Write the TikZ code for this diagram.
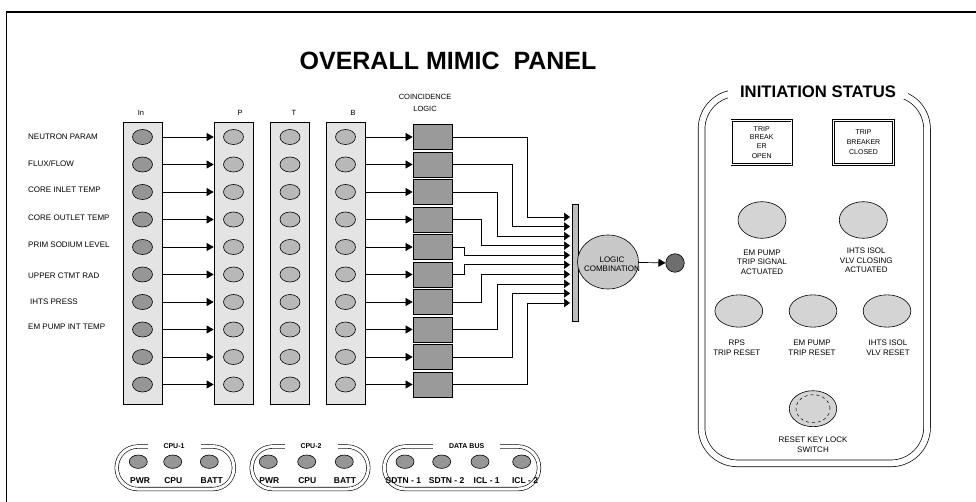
\documentclass[tikz,border=0pt]{standalone}
\usepackage{fontspec}
\setmainfont{Liberation Sans}
\usetikzlibrary{positioning, shapes.geometric, arrows.meta}

\definecolor{colfill}{HTML}{E4E4E4}
\definecolor{lampdark}{HTML}{969696}
\definecolor{lamplight}{HTML}{B8B8B8}
\definecolor{coinfill}{HTML}{9A9A9A}
\definecolor{barfill}{HTML}{BDBDBD}
\definecolor{logicfill}{HTML}{C8C8C8}
\definecolor{dotfill}{HTML}{6E6E6E}
\definecolor{panelfill}{HTML}{D4D4D4}

\begin{document}
\begin{tikzpicture}[
  x=1pt, y=-1pt,
  font=\fontsize{8}{9.5}\selectfont,
  col/.style={draw, fill=colfill, line width=0.7pt, minimum width=39pt, minimum height=282pt, inner sep=0pt},
  lamp/.style={draw, ellipse, line width=0.6pt, minimum width=20pt, minimum height=15pt, inner sep=0pt},
  inlamp/.style={lamp, fill=lampdark},
  siglamp/.style={lamp, fill=lamplight},
  coin/.style={draw, fill=coinfill, line width=0.8pt, minimum width=39pt, minimum height=25pt, inner sep=0pt},
  param/.style={anchor=west, inner sep=0pt},
  head/.style={font=\fontsize{7.5}{12}\selectfont, align=center, inner sep=0pt},
  arrow/.style={-{Triangle[length=7pt, width=8pt]}, line width=0.7pt},
  wire/.style={-{Triangle[length=6pt, width=8.5pt]}, line width=0.6pt},
  panel/.style={draw, double, double distance=6pt, line width=0.7pt, rounded corners=36pt, inner sep=0pt},
  tripbox/.style={draw, double, double distance=1.2pt, line width=0.6pt, minimum width=60pt, minimum height=44pt, inner sep=0pt, align=center, font=\fontsize{7}{8.5}\selectfont},
  bigdisc/.style={draw, ellipse, fill=panelfill, line width=0.6pt, inner sep=0pt},
  disclbl/.style={align=center, inner sep=0pt, font=\fontsize{8}{9.5}\selectfont},
  group/.style={draw, double, double distance=3pt, line width=0.6pt, rounded corners=21pt, minimum height=42.5pt, inner sep=0pt},
  grouptitle/.style={fill=white, inner xsep=16pt, inner ysep=1pt, font=\bfseries\fontsize{7}{8}\selectfont},
  glamp/.style={draw, ellipse, fill=lampdark, line width=0.6pt, minimum width=18pt, minimum height=13.4pt, inner sep=0pt},
  glbl/.style={inner sep=0pt, font=\bfseries\fontsize{8.5}{9}\selectfont},
]
  \useasboundingbox (0,0) rectangle (976,502);
  \draw[line width=1.3pt] (976,12) -| (6.5,502);

  \node[font=\bfseries\fontsize{25}{28}\selectfont] (title) at (448,61) {OVERALL MIMIC\ \ PANEL};

  % parameter columns
  \node[col] (colIn) at (142.5,263) {};
  \node[col] (colP) at (233.5,263) {};
  \node[col] (colT) at (290,263) {};
  \node[col] (colB) at (345.5,263) {};
  \node[head] (hIn) at (141,113) {In};
  \node[head] (hP) at (240,113) {P};
  \node[head] (hT) at (294,113) {T};
  \node[head] (hB) at (353,113) {B};
  \node[head] (hCoin) at (425,103) {COINCIDENCE\\LOGIC};

  \node[param] (pNeutron) at (28,137) {NEUTRON PARAM};
  \node[param] (pFlux) at (28,163.5) {FLUX/FLOW};
  \node[param] (pInlet) at (28,190) {CORE INLET TEMP};
  \node[param] (pOutlet) at (28,218) {CORE OUTLET TEMP};
  \node[param] (pSodium) at (28,245) {PRIM SODIUM LEVEL};
  \node[param] (pCtmt) at (28,276) {UPPER CTMT RAD};
  \node[param] (pIhts) at (30,302) {IHTS PRESS};
  \node[param] (pEmPump) at (28,327) {EM PUMP INT TEMP};

  \foreach \i in {0,...,9} {
    \pgfmathsetmacro{\y}{137+27.5*\i}
    \node[inlamp] (in\i) at (142.5,\y) {};
    \node[siglamp] (p\i) at (233.5,\y) {};
    \node[siglamp] (t\i) at (290,\y) {};
    \node[siglamp] (b\i) at (345.5,\y) {};
    \node[coin] (coin\i) at (432.5,\y) {};
    \draw[arrow] (in\i -| colIn.east) -- (p\i -| colP.west);
    \draw[arrow] (b\i -| colB.east) -- (coin\i.west);
  }

  % logic combination
  \node[draw, fill=barfill, line width=0.6pt, minimum width=6pt, minimum height=117pt, inner sep=0pt] (bar) at (575.5,262.5) {};
  \foreach \i/\tx in {0/527,1/512,2/497,3/481,4/464,5/464,6/481,7/497,8/512,9/527} {
    \pgfmathsetmacro{\yin}{217+9.55*\i}
    \coordinate (bin\i) at (570,\yin);
    \coordinate (turn\i) at (\tx,\yin);
    \draw[wire] (coin\i.east) -| (turn\i) -- (bin\i);
  }
  \node[draw, ellipse, fill=logicfill, line width=0.6pt, minimum width=61pt, minimum height=54pt, inner sep=0pt] (logic) at (608,262) {};
  \node[align=center, inner sep=0pt, font=\fontsize{8}{9.5}\selectfont] (logictxt) at (612,264) {LOGIC\\COMBINATION};
  \node[draw, circle, fill=dotfill, line width=0.6pt, minimum size=18.5pt, inner sep=0pt] (dot) at (675,263) {};
  \draw[arrow] (logic) -- (dot);

  % initiation status
  \node[panel, minimum width=225.5pt, minimum height=370.3pt] (initpanel) at (814.3,278.2) {};
  \node[fill=white, inner xsep=12pt, inner ysep=1pt, font=\bfseries\fontsize{16.7}{18}\selectfont] (inittitle) at (818,92) {INITIATION STATUS};

  \node[tripbox] (tbopen) at (761.7,142.7) {TRIP\\BREAK\\ER\\[2pt]OPEN};
  \node[tripbox, font=\fontsize{7}{10}\selectfont] (tbclosed) at (863.5,142.5) {TRIP\\BREAKER\\CLOSED};

  \node[bigdisc, minimum width=48pt, minimum height=36.6pt] (emtrip) at (762,220) {};
  \node[bigdisc, minimum width=48pt, minimum height=36.6pt] (ihtsclose) at (863.3,220) {};
  \node[disclbl, below=11pt of emtrip] (emtriplbl) {EM PUMP\\TRIP SIGNAL\\ACTUATED};
  \node[disclbl, below=9.5pt of ihtsclose, xshift=3pt] (ihtscloselbl) {IHTS ISOL\\VLV CLOSING\\ACTUATED};

  \node[bigdisc, minimum width=47.7pt, minimum height=32.3pt] (rpsreset) at (738.8,311) {};
  \node[bigdisc, minimum width=47.7pt, minimum height=32.3pt] (emreset) at (813,311) {};
  \node[bigdisc, minimum width=47.7pt, minimum height=32.3pt] (ihtsreset) at (887,311) {};
  \node[disclbl, below=12.5pt of rpsreset, xshift=-2pt] (rpslbl) {RPS\\TRIP RESET};
  \node[disclbl, below=12.5pt of emreset, xshift=-1pt] (emresetlbl) {EM PUMP\\TRIP RESET};
  \node[disclbl, below=12.5pt of ihtsreset, xshift=1pt] (ihtsresetlbl) {IHTS ISOL\\VLV RESET};

  \node[bigdisc, minimum width=47.4pt, minimum height=36pt] (keylock) at (813,408.7) {};
  \node[draw, ellipse, dashed, line width=0.5pt, minimum width=34pt, minimum height=28pt, inner sep=0pt] (keyring) at (keylock) {};
  \node[disclbl, below=10pt of keylock] (keylbl) {RESET KEY LOCK\\SWITCH};

  % cpu and data bus groups
  \node[group, minimum width=117.2pt] (cpu1) at (175.3,467.8) {};
  \node[group, minimum width=116.6pt] (cpu2) at (310,467.8) {};
  \node[group, minimum width=154.6pt] (databus) at (461.7,467.8) {};
  \node[grouptitle] (cpu1t) at (174,446.5) {CPU-1};
  \node[grouptitle] (cpu2t) at (311,446.5) {CPU-2};
  \node[grouptitle] (databust) at (466.7,446.5) {DATA BUS};

  \foreach \x/\lx/\t [count=\k] in {138.3/140/PWR, 172.7/173.3/CPU, 209.3/211.7/BATT,
      268.3/269.3/PWR, 306.7/307.3/CPU, 344.3/345/BATT,
      405/403.3/SDTN - 1, 441.7/446.7/SDTN - 2, 480/486.7/ICL - 1, 521.7/525/ICL - 2} {
    \node[glamp] (gl\k) at (\x,461.7) {};
    \node[glbl] (gt\k) at (\lx,481) {\t};
  }
\end{tikzpicture}
\end{document}
